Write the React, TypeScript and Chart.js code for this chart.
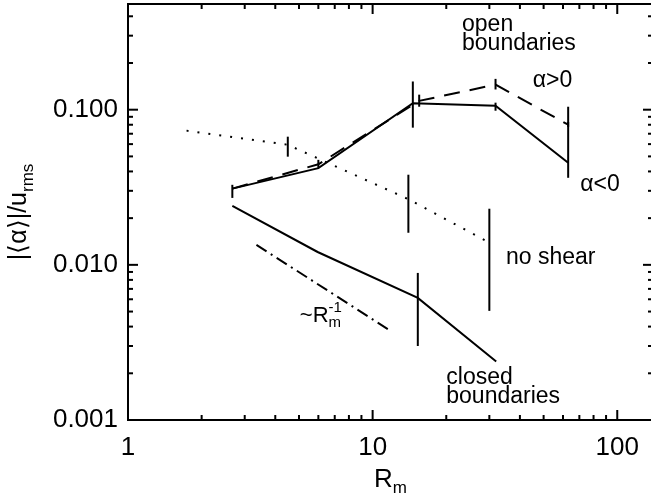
import React, { useEffect, useRef } from "react";
import { Chart, registerables } from "chart.js";

Chart.register(...registerables);

const FONT = '"Liberation Sans", Arial, Helvetica, sans-serif';

// Axis ticks
const xTickValues = [1, 10, 100];
const xTickLabels = ["1", "10", "100"];
const yTickValues = [0.001, 0.01, 0.1];
const yTickLabels = ["0.001", "0.010", "0.100"];

// Open boundaries, alpha<0 (solid)
const openNegRm = [2.67, 6.0, 14.6, 31.8, 63];
const openNegAlpha = [0.031, 0.042, 0.11, 0.106, 0.0455];

// Open boundaries, alpha>0 (dashed)
const openPosRm = [2.67, 6.0, 15.5, 31.8, 63];
const openPosAlpha = [0.031, 0.0445, 0.114, 0.145, 0.08];

// No shear (dotted)
const noShearRm = [1.735, 4.5, 14.0, 30.0];
const noShearAlpha = [0.0733, 0.0594, 0.0265, 0.0139];

// Closed boundaries (solid)
const closedRm = [2.67, 5.96, 15.3, 32.0];
const closedAlpha = [0.024, 0.0121, 0.00612, 0.00238];

// ~Rm^-1 reference (dash-dot)
const refRm = [3.35, 11.7];
const refAlpha = [0.01345, 0.0038];

// Error bars
const errRm = [2.67, 6.0, 14.6, 15.5, 31.8, 31.8, 63, 63, 4.5, 14.0, 30.0, 15.3];
const errLow = [0.027, 0.042, 0.0766, 0.1045, 0.0985, 0.135, 0.0364, 0.0775, 0.0498, 0.0161, 0.00505, 0.003];
const errHigh = [0.0328, 0.0475, 0.152, 0.125, 0.111, 0.158, 0.1045, 0.0835, 0.067, 0.0381, 0.023, 0.00887];

// Annotations
const labelTexts = ["open", "boundaries", "α>0", "α<0", "no shear", "closed", "boundaries"];
const labelRm = [23.2, 23.2, 45.1, 70.6, 35.1, 20.0, 20.0];
const labelAlpha = [0.32, 0.244, 0.14, 0.0297, 0.01015, 0.0017, 0.00129];
const refLabelRm = 5.04;
const refLabelAlpha = 0.0043;

export default function App() {
  const ref = useRef<HTMLCanvasElement>(null);

  useEffect(() => {
    const canvas = ref.current!;
    const xy = (xs: number[], ys: number[]) => xs.map((x, i) => ({ x, y: ys[i] }));
    const lineDs = (data: any[], dash: number[]) => ({
      data,
      showLine: true,
      borderColor: "#000",
      backgroundColor: "#000",
      borderWidth: 2,
      borderDash: dash,
      borderCapStyle: "butt",
      pointRadius: 0,
      pointHoverRadius: 0,
      fill: false,
      tension: 0,
    });

    const datasets: any[] = [
      lineDs(xy(openNegRm, openNegAlpha), []),
      lineDs(xy(openPosRm, openPosAlpha), [16, 10]),
      lineDs(xy(noShearRm, noShearAlpha), [2, 9]),
      lineDs(xy(closedRm, closedAlpha), []),
      lineDs(xy(refRm, refAlpha), [12, 5, 2, 5]),
      ...errRm.map((x, i) => lineDs([{ x, y: errLow[i] }, { x, y: errHigh[i] }], [])),
    ];

    const decorate = {
      id: "decorate",
      afterDraw(chart: any) {
        const ctx = chart.ctx as CanvasRenderingContext2D;
        const { left, right, top, bottom } = chart.chartArea;
        const xs = chart.scales.x;
        const ys = chart.scales.y;
        ctx.save();
        ctx.strokeStyle = "#000";
        ctx.fillStyle = "#000";
        ctx.lineWidth = 2;
        ctx.setLineDash([]);
        ctx.strokeRect(left, top, right - left, bottom - top);
        const seg = (x1: number, y1: number, x2: number, y2: number) => {
          ctx.beginPath();
          ctx.moveTo(x1, y1);
          ctx.lineTo(x2, y2);
          ctx.stroke();
        };
        for (let e = 0; e <= 2; e++) {
          for (let m = 1; m <= 9; m++) {
            const v = m * Math.pow(10, e);
            if (v < xs.min || v > xs.max) continue;
            const px = xs.getPixelForValue(v);
            const len = m === 1 ? 10 : 5;
            seg(px, bottom, px, bottom - len);
            seg(px, top, px, top + len);
          }
        }
        for (let e = -3; e <= -1; e++) {
          for (let m = 1; m <= 9; m++) {
            const v = m * Math.pow(10, e);
            if (v < ys.min * 0.999 || v > ys.max) continue;
            const py = ys.getPixelForValue(v);
            const len = m === 1 ? 10 : 5;
            seg(left, py, left + len, py);
            seg(right, py, right - len, py);
          }
        }

        // x title R_m
        ctx.textAlign = "left";
        ctx.textBaseline = "alphabetic";
        ctx.font = `26px ${FONT}`;
        const wR = ctx.measureText("R").width;
        ctx.font = `17px ${FONT}`;
        const wm = ctx.measureText("m").width;
        const cx = (left + right) / 2;
        const sx = cx - (wR + wm) / 2;
        ctx.font = `26px ${FONT}`;
        ctx.fillText("R", sx, 487);
        ctx.font = `17px ${FONT}`;
        ctx.fillText("m", sx + wR, 493);

        // y title
        ctx.save();
        ctx.translate(26, (top + bottom) / 2);
        ctx.rotate(-Math.PI / 2);
        ctx.font = `25px ${FONT}`;
        const main = "|⟨α⟩|/u";
        const wMain = ctx.measureText(main).width;
        ctx.font = `17px ${FONT}`;
        const wSub = ctx.measureText("rms").width;
        const start = -(wMain + wSub) / 2;
        ctx.font = `25px ${FONT}`;
        ctx.fillText(main, start, 0);
        ctx.font = `17px ${FONT}`;
        ctx.fillText("rms", start + wMain, 7);
        ctx.restore();

        // annotations
        ctx.font = `23px ${FONT}`;
        labelTexts.forEach((t, i) => {
          ctx.fillText(t, xs.getPixelForValue(labelRm[i]), ys.getPixelForValue(labelAlpha[i]));
        });
        const rx = xs.getPixelForValue(refLabelRm);
        const ry = ys.getPixelForValue(refLabelAlpha);
        ctx.font = `22px ${FONT}`;
        const wT = ctx.measureText("~").width;
        ctx.fillText("~", rx, ry);
        const wR2 = ctx.measureText("R").width;
        ctx.fillText("R", rx + wT, ry);
        ctx.font = `15px ${FONT}`;
        ctx.fillText("m", rx + wT + wR2, ry + 5);
        ctx.fillText("-1", rx + wT + wR2, ry - 10);
        ctx.restore();
      },
    };

    const chart = new Chart(canvas, {
      type: "scatter",
      data: { datasets },
      options: {
        animation: false,
        responsive: false,
        devicePixelRatio: 1,
        events: [],
        layout: { padding: { left: 0, top: 4, right: 7, bottom: 0 } },
        plugins: { legend: { display: false }, tooltip: { enabled: false } },
        scales: {
          x: {
            type: "logarithmic",
            position: "bottom",
            min: 1,
            max: 140,
            grid: { display: false, drawTicks: false },
            border: { display: false },
            ticks: {
              color: "#000",
              font: { family: FONT, size: 26 },
              padding: 12,
              maxRotation: 0,
              autoSkip: false,
              callback: (v: any) => {
                const i = xTickValues.indexOf(Number(v));
                return i >= 0 ? xTickLabels[i] : "";
              },
            },
            afterBuildTicks: (s: any) => {
              s.ticks = xTickValues.map((v) => ({ value: v }));
            },
            afterFit: (s: any) => {
              s.height = 77;
              s.paddingLeft = 0;
              s.paddingRight = 0;
              s.paddingTop = 0;
              s.paddingBottom = 0;
            },
          },
          y: {
            type: "logarithmic",
            position: "left",
            min: 0.001,
            max: 0.48,
            grid: { display: false, drawTicks: false },
            border: { display: false },
            ticks: {
              color: "#000",
              font: { family: FONT, size: 26 },
              padding: 10,
              autoSkip: false,
              callback: (v: any) => {
                const n = Number(v);
                const i = yTickValues.findIndex((t) => Math.abs(t - n) / t < 1e-6);
                return i >= 0 ? yTickLabels[i] : "";
              },
            },
            afterBuildTicks: (s: any) => {
              s.ticks = yTickValues.map((v) => ({ value: v }));
            },
            afterFit: (s: any) => {
              s.width = 128;
              s.paddingLeft = 0;
              s.paddingRight = 0;
              s.paddingTop = 0;
              s.paddingBottom = 0;
            },
          },
        },
      } as any,
      plugins: [decorate],
    });
    return () => chart.destroy();
  }, []);

  return (
    <div
      style={{
        position: "absolute",
        left: 0,
        top: 0,
        width: 651,
        height: 497,
        overflow: "hidden",
        background: "#fff",
      }}
    >
      <canvas ref={ref} width={660} height={497} style={{ display: "block", width: 660, height: 497 }} />
    </div>
  );
}
